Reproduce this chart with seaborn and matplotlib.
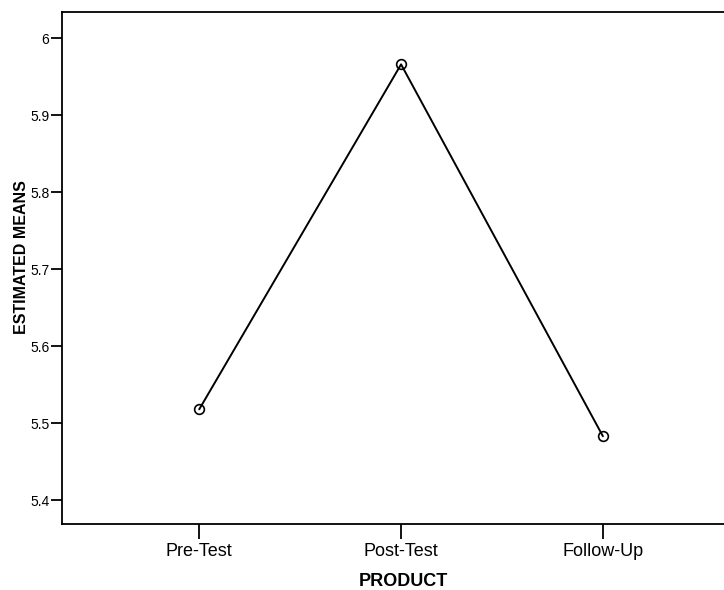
import matplotlib
matplotlib.use("Agg")
import matplotlib.pyplot as plt
import seaborn as sns
import pandas as pd

categories = ["Pre-Test", "Post-Test", "Follow-Up"]
means = [5.518, 5.966, 5.483]

sns.set_style("ticks")
plt.rcParams['font.family'] = ['Liberation Sans', 'DejaVu Sans']
plt.rcParams['text.color'] = 'black'
plt.rcParams['axes.labelcolor'] = 'black'

df = pd.DataFrame({"PRODUCT": categories, "MEAN": means})

fig = plt.figure(figsize=(7.24, 5.9), dpi=100)
ax = fig.add_axes([62/724, 66/590, 1 - 62/724, (524-12)/590])

sns.lineplot(data=df, x="PRODUCT", y="MEAN", ax=ax, color="black", linewidth=1.4,
             marker="o", markersize=7, markerfacecolor="none", markeredgecolor="black",
             markeredgewidth=1.2, sort=False)

ax.set_xlim(-0.68, 2.6)
ax.set_ylim(5.369, 6.034)
ax.set_yticks([5.4, 5.5, 5.6, 5.7, 5.8, 5.9, 6.0])
ax.set_yticklabels(["5.4", "5.5", "5.6", "5.7", "5.8", "5.9", "6"])
ax.set_xticks([0, 1, 2])
ax.set_xticklabels(categories)

for s in ["left", "bottom", "top"]:
    ax.spines[s].set_visible(True)
    ax.spines[s].set_color("black")
    ax.spines[s].set_linewidth(1.3)
ax.spines["right"].set_visible(False)

ax.tick_params(axis="y", direction="out", length=8, width=1.3, labelsize=10, pad=1, colors="black")
ax.tick_params(axis="x", direction="out", length=11, width=1.3, labelsize=13, pad=3, colors="black")

ax.set_xlabel("PRODUCT", fontsize=13, fontweight="bold")
ax.set_ylabel("ESTIMATED MEANS", fontsize=11.5, fontweight="bold")
ax.xaxis.set_label_coords((403 - 62) / 662, -(582 - 524) / 512)
ax.yaxis.set_label_coords((22 - 62) / 662, (524 - 257) / 512)
ax.xaxis.label.set_verticalalignment("center")
ax.yaxis.label.set_verticalalignment("center")

fig.savefig("out.png", dpi=100)
